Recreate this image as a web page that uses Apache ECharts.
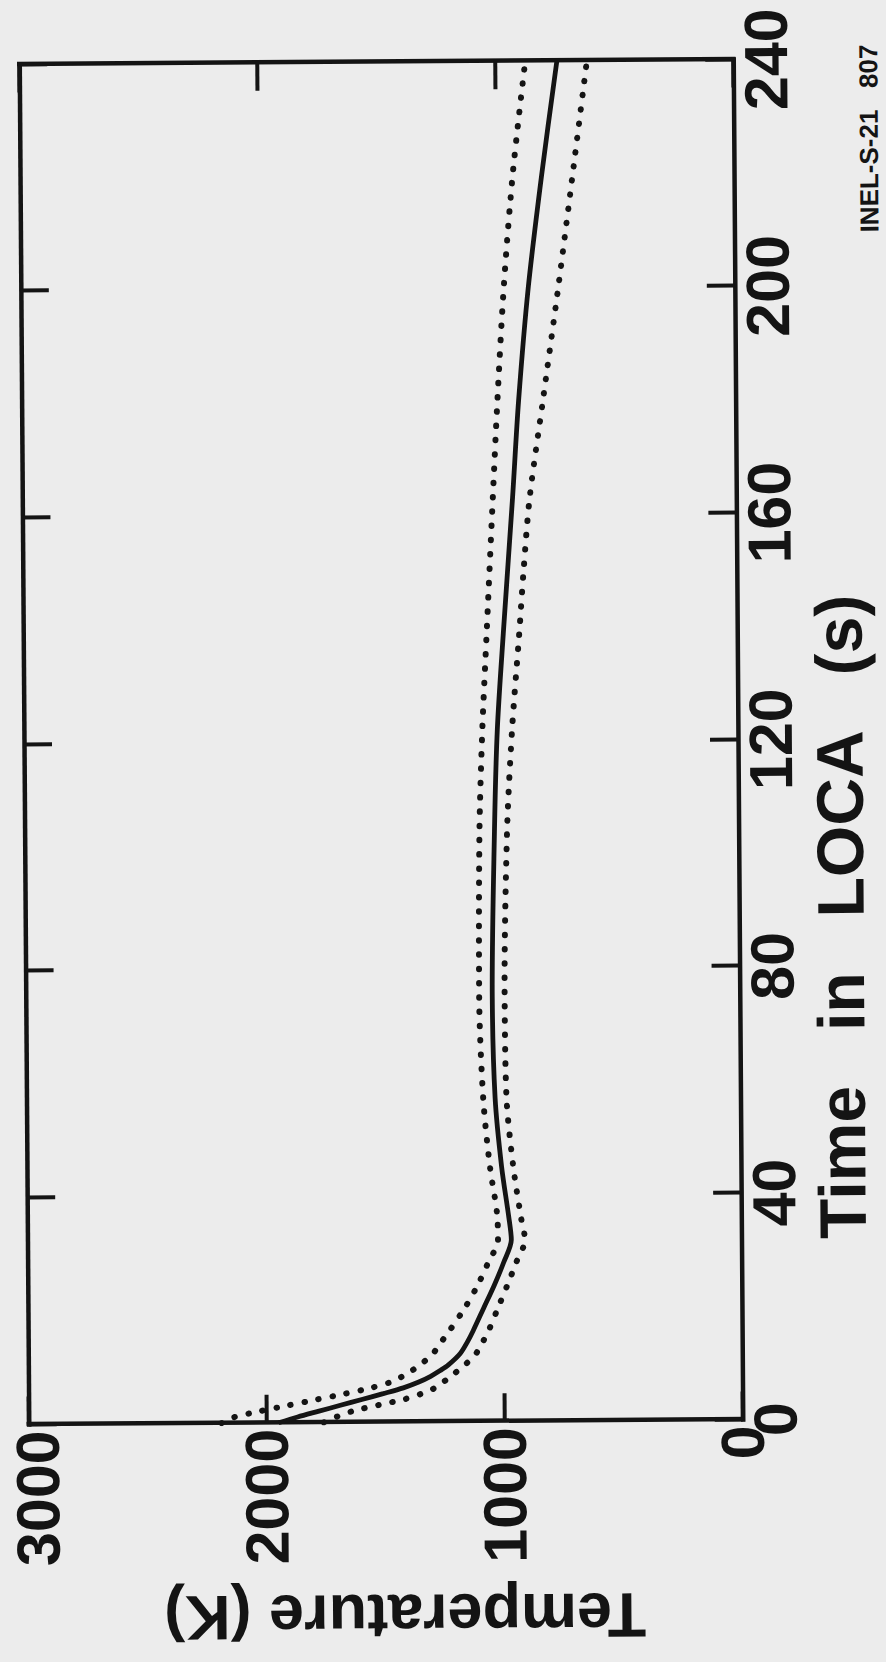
<!DOCTYPE html>
<html>
<head>
<meta charset="utf-8">
<script src="https://cdn.jsdelivr.net/npm/echarts/dist/echarts.min.js"></script>
<style>
  html, body { margin: 0; padding: 0; width: 886px; height: 1662px; overflow: hidden; background: #ececec; }
  /* The sheet is a landscape plot turned onto a portrait page, slightly skewed. */
  #page { position: absolute; left: 0; top: 0; width: 886px; height: 1662px;
          transform-origin: 381px 742px; transform: rotate(-0.4deg); }
  #chart { position: absolute; left: 0; top: 1662px; width: 1662px; height: 886px;
           transform-origin: 0 0; transform: rotate(-90deg); }
</style>
</head>
<body>
<div id="page"><div id="chart"></div></div>
<script>
// Axis ticks
const TIME_TICKS = [0, 40, 80, 120, 160, 200, 240];      // s
const TEMP_TICKS = [0, 1000, 2000, 3000];                 // K

// Best-estimate temperature history
const nominalTime = [0, 1, 2, 3, 4, 5, 6, 7, 8, 9, 10, 12, 14, 16, 20, 24, 28, 32, 36, 45, 57, 75, 104, 122, 139, 163, 180, 200, 220, 240];
const nominalTemp = [1950, 1870, 1780, 1690, 1600, 1510, 1425, 1360, 1310, 1270, 1235, 1185, 1155, 1130, 1085, 1040, 1000, 967, 977, 1006, 1031, 1040, 1026, 1011, 983, 940, 912, 868, 808, 741];

// Upper uncertainty bound
const upperTime = [0, 1, 2, 3, 4, 5, 6, 7, 8, 9, 10, 12, 14, 16, 20, 24, 28, 32, 36, 45, 57, 75, 104, 122, 139, 163, 180, 200, 220, 240];
const upperTemp = [2190, 2140, 2035, 1915, 1795, 1675, 1565, 1480, 1430, 1390, 1355, 1300, 1265, 1230, 1165, 1110, 1065, 1023, 1025, 1055, 1081, 1095, 1089, 1074, 1053, 1023, 1001, 971, 930, 874];

// Lower uncertainty bound
const lowerTime = [0, 1, 2, 3, 4, 5, 6, 8, 10, 12, 14, 16, 20, 24, 28, 32, 36, 45, 57, 75, 104, 122, 139, 150, 163, 180, 200, 220, 240];
const lowerTemp = [1760, 1705, 1635, 1530, 1420, 1345, 1290, 1225, 1165, 1118, 1090, 1065, 1025, 985, 947, 910, 926, 957, 983, 988, 973, 949, 916, 896, 868, 810, 742, 678, 615];

const zip = (xs, ys) => xs.map((x, i) => [x, ys[i]]);

const INK = '#141414';
const FONT = '"Liberation Sans", Arial, Helvetica, sans-serif';
const bigText = { fontFamily: FONT, fontWeight: 'bold', fontSize: 61, color: INK };

const frameLine = { show: true, onZero: false, lineStyle: { color: INK, width: 4.5, cap: 'square' } };
const inTicks = { show: true, inside: true, length: 28, lineStyle: { color: INK, width: 4 } };
const step = a => a[1] - a[0];
const plain = v => String(v);
const TEMP_MAX = TEMP_TICKS[TEMP_TICKS.length - 1];

const chart = echarts.init(document.getElementById('chart'), null,
  { renderer: 'svg', width: 1662, height: 886 });

chart.setOption({
  backgroundColor: 'transparent',
  animation: false,
  grid: { left: 240, right: 62, top: 24, bottom: 148, containLabel: false, outerBoundsMode: 'none' },
  xAxis: [
    {
      type: 'value', position: 'bottom',
      min: TIME_TICKS[0], max: TIME_TICKS[TIME_TICKS.length - 1], interval: step(TIME_TICKS),
      axisLine: frameLine, axisTick: inTicks, splitLine: { show: false },
      axisLabel: Object.assign({}, bigText, { lineHeight: 46, margin: 10, formatter: plain,
        showMinLabel: true, showMaxLabel: true, hideOverlap: false }),
      name: 'Time\u00a0\u00a0\u00a0in\u00a0\u00a0\u00a0LOCA\u00a0\u00a0\u00a0(s)', nameLocation: 'middle', nameGap: 64,
      nameTextStyle: Object.assign({}, bigText, { fontSize: 66, lineHeight: 66, padding: [0, 356, 0, 0] })
    },
    {
      type: 'value', position: 'top',
      min: TIME_TICKS[0], max: TIME_TICKS[TIME_TICKS.length - 1], interval: step(TIME_TICKS),
      axisLine: frameLine, axisTick: inTicks, splitLine: { show: false }, axisLabel: { show: false }
    }
  ],
  yAxis: [
    {
      type: 'value', position: 'left',
      min: TEMP_TICKS[0], max: TEMP_MAX, interval: step(TEMP_TICKS),
      axisLine: frameLine, axisTick: inTicks, splitLine: { show: false },
      axisLabel: Object.assign({}, bigText, {
        lineHeight: 46, margin: 6, showMinLabel: true, showMaxLabel: true, hideOverlap: false,
        // the top label sits a little inside the frame edge
        formatter: v => (v === TEMP_MAX ? '{edge|' + v + '}' : plain(v)),
        rich: { edge: Object.assign({}, bigText, { lineHeight: 46, padding: [18, 0, 0, 0] }) }
      }),
      name: 'Temperature (K)', nameLocation: 'middle', nameRotate: 90, nameGap: 170,
      nameTextStyle: Object.assign({}, bigText, { fontSize: 63, lineHeight: 50, padding: [0, 36, 0, 0] })
    },
    {
      type: 'value', position: 'right',
      min: TEMP_TICKS[0], max: TEMP_MAX, interval: step(TEMP_TICKS),
      axisLine: frameLine, axisTick: inTicks, splitLine: { show: false }, axisLabel: { show: false }
    }
  ],
  graphic: [{
    type: 'text', x: 1614, y: 860, silent: true,
    style: { text: 'INEL-S-21\u00a0\u00a0\u00a0807', align: 'right', verticalAlign: 'top', lineHeight: 26,
             font: 'bold 26px "Liberation Sans Narrow", "Liberation Sans", sans-serif', fill: INK }
  }],
  series: [
    {
      name: 'Upper bound', type: 'line', data: zip(upperTime, upperTemp),
      smooth: 0.3, symbol: 'none',
      lineStyle: { color: INK, width: 6, type: [0.5, 13.8], cap: 'round' }
    },
    {
      name: 'Lower bound', type: 'line', data: zip(lowerTime, lowerTemp),
      smooth: 0.3, symbol: 'none',
      lineStyle: { color: INK, width: 6, type: [0.5, 13.8], cap: 'round' }
    },
    {
      name: 'Best estimate', type: 'line', data: zip(nominalTime, nominalTemp),
      smooth: 0.3, symbol: 'none', z: 3,
      lineStyle: { color: INK, width: 4.8 }
    }
  ]
});
</script>
</body>
</html>
